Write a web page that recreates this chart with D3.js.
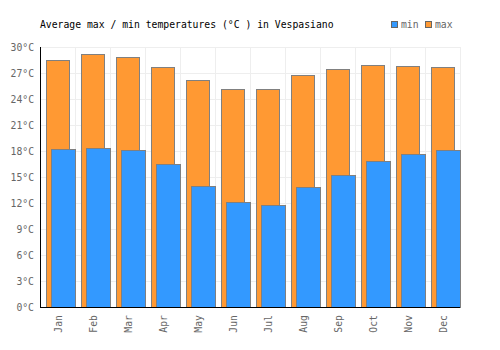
<!DOCTYPE html>
<html>
<head>
<meta charset="utf-8">
<script src="https://cdn.jsdelivr.net/npm/d3@7"></script>
<style>
  body { margin: 0; background: #fff; }
  text { font-family: "DejaVu Sans Mono", monospace; }
</style>
</head>
<body>
<div id="chart"></div>
<script>
const months = ["Jan", "Feb", "Mar", "Apr", "May", "Jun", "Jul", "Aug", "Sep", "Oct", "Nov", "Dec"]
const maxTemps = [28.5, 29.2, 28.8, 27.7, 26.2, 25.2, 25.2, 26.8, 27.5, 27.9, 27.8, 27.7]
const minTemps = [18.2, 18.4, 18.1, 16.5, 14.0, 12.1, 11.8, 13.9, 15.2, 16.8, 17.7, 18.1]
const yTicks = [0, 3, 6, 9, 12, 15, 18, 21, 24, 27, 30]

const width = 500, height = 350
const margin = { top: 47, right: 40, bottom: 43, left: 40 }
const fs = 9.75

const svg = d3.select("#chart").append("svg")
  .attr("width", width).attr("height", height)

const x = d3.scaleBand().domain(months).range([margin.left, width - margin.right])
const y = d3.scaleLinear().domain([0, 30]).range([height - margin.bottom, margin.top])

// grid
svg.append("g")
  .selectAll("line")
  .data(yTicks.slice(1))
  .join("line")
  .attr("x1", margin.left).attr("x2", width - margin.right)
  .attr("y1", d => y(d) + 0.5).attr("y2", d => y(d) + 0.5)
  .attr("stroke", "#eeeeee").attr("stroke-width", 1)

svg.append("g")
  .selectAll("line")
  .data(months)
  .join("line")
  .attr("x1", d => Math.round(x(d) + x.bandwidth()) + 0.5)
  .attr("x2", d => Math.round(x(d) + x.bandwidth()) + 0.5)
  .attr("y1", margin.top).attr("y2", height - margin.bottom)
  .attr("stroke", "#eeeeee").attr("stroke-width", 1)

// max bars
svg.append("g")
  .selectAll("rect")
  .data(months)
  .join("rect")
  .attr("x", d => Math.round(x(d) + 6) + 0.5)
  .attr("width", 23)
  .attr("y", (d, i) => Math.round(y(maxTemps[i])) + 0.5)
  .attr("height", (d, i) => y(0) - Math.round(y(maxTemps[i])))
  .attr("fill", "#ff9933")
  .attr("stroke", "#808080").attr("stroke-width", 1)

// min bars
svg.append("g")
  .selectAll("rect")
  .data(months)
  .join("rect")
  .attr("x", d => Math.round(x(d) + 11) + 0.5)
  .attr("width", 24)
  .attr("y", (d, i) => Math.round(y(minTemps[i])) + 0.5)
  .attr("height", (d, i) => y(0) - Math.round(y(minTemps[i])))
  .attr("fill", "#3399ff")
  .attr("stroke", "#808080").attr("stroke-width", 1)

// axes lines
svg.append("line")
  .attr("x1", margin.left + 0.5).attr("x2", margin.left + 0.5)
  .attr("y1", margin.top).attr("y2", y(0) + 1)
  .attr("stroke", "#000")
svg.append("line")
  .attr("x1", margin.left).attr("x2", width - margin.right)
  .attr("y1", y(0) + 0.5).attr("y2", y(0) + 0.5)
  .attr("stroke", "#000")

// y labels
svg.append("g")
  .selectAll("text")
  .data(yTicks)
  .join("text")
  .attr("x", margin.left - 6)
  .attr("y", d => y(d) + 4)
  .attr("text-anchor", "end")
  .attr("font-size", fs)
  .attr("fill", "#666")
  .text(d => d + "°C")

// x labels
svg.append("g")
  .selectAll("text")
  .data(months)
  .join("text")
  .attr("transform", d => `translate(${x(d) + x.bandwidth() / 2 + 4},${y(0) + 8}) rotate(-90)`)
  .attr("text-anchor", "end")
  .attr("font-size", fs)
  .attr("fill", "#666")
  .text(d => d)

// title
svg.append("text")
  .attr("x", 40).attr("y", 28)
  .attr("font-size", fs)
  .attr("fill", "#000")
  .text("Average max / min temperatures (°C ) in Vespasiano")

// legend
const legend = [["min", "#3399ff", 391], ["max", "#ff9933", 425]]
legend.forEach(([label, color, lx]) => {
  svg.append("rect")
    .attr("x", lx + 0.5).attr("y", 21.5)
    .attr("width", 6).attr("height", 6)
    .attr("fill", color).attr("stroke", "#666")
  svg.append("text")
    .attr("x", lx + 10).attr("y", 28)
    .attr("font-size", fs)
    .attr("fill", "#666")
    .text(label)
})
</script>
</body>
</html>
